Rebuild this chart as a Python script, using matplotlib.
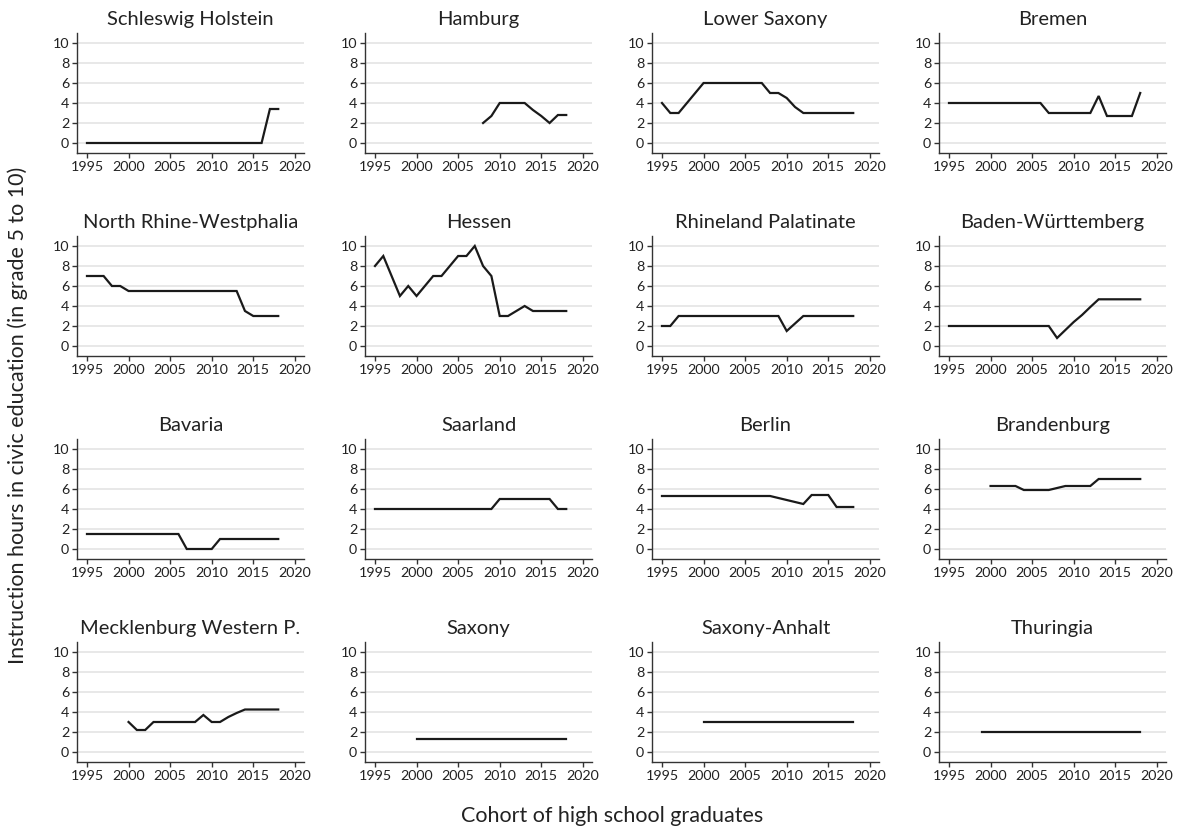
import matplotlib.pyplot as plt

plt.rcParams["font.family"] = ["Lato", "DejaVu Sans"]

# 各州公民教育课时数据（按毕业年份）
states = [
    "Schleswig Holstein", "Hamburg", "Lower Saxony", "Bremen",
    "North Rhine-Westphalia", "Hessen", "Rhineland Palatinate", "Baden-Württemberg",
    "Bavaria", "Saarland", "Berlin", "Brandenburg",
    "Mecklenburg Western P.", "Saxony", "Saxony-Anhalt", "Thuringia",
]

sh_years = list(range(1995, 2019))
sh_hours = [0] * 22 + [3.4, 3.4]

hh_years = list(range(2008, 2019))
hh_hours = [2, 2.7, 4, 4, 4, 4, 3.3, 2.7, 2, 2.8, 2.8]

ni_years = list(range(1995, 2019))
ni_hours = [4, 3, 3, 4, 5, 6, 6, 6, 6, 6, 6, 6, 6, 5, 5, 4.5, 3.6, 3, 3, 3, 3, 3, 3, 3]

hb_years = list(range(1995, 2019))
hb_hours = [4] * 12 + [3, 3, 3, 3, 3, 3, 4.7, 2.7, 2.7, 2.7, 2.7, 5]

nw_years = list(range(1995, 2019))
nw_hours = [7, 7, 7, 6, 6] + [5.5] * 14 + [3.5, 3, 3, 3, 3]

he_years = list(range(1995, 2019))
he_hours = [8, 9, 7, 5, 6, 5, 6, 7, 7, 8, 9, 9, 10, 8, 7, 3, 3, 3.5, 4, 3.5, 3.5, 3.5, 3.5, 3.5]

rp_years = list(range(1995, 2019))
rp_hours = [2, 2] + [3] * 13 + [1.5, 2.25] + [3] * 7

bw_years = list(range(1995, 2019))
bw_hours = [2] * 13 + [0.8, 1.6, 2.4, 3.1, 3.9] + [4.67] * 6

by_years = list(range(1995, 2019))
by_hours = [1.5] * 12 + [0, 0, 0, 0] + [1] * 8

sl_years = list(range(1995, 2019))
sl_hours = [4] * 15 + [5] * 7 + [4, 4]

be_years = list(range(1995, 2019))
be_hours = [5.3] * 14 + [5.1, 4.9, 4.7, 4.5, 5.4, 5.4, 5.4, 4.2, 4.2, 4.2]

bb_years = list(range(2000, 2019))
bb_hours = [6.3] * 4 + [5.9] * 4 + [6.1] + [6.3] * 4 + [7] * 6

mv_years = list(range(2000, 2019))
mv_hours = [3, 2.2, 2.2, 3, 3, 3, 3, 3, 3, 3.7, 3, 3, 3.5, 3.9, 4.25, 4.25, 4.25, 4.25, 4.25]

sn_years = list(range(2000, 2019))
sn_hours = [1.3] * 19

st_years = list(range(2000, 2019))
st_hours = [3] * 19

th_years = list(range(1999, 2019))
th_hours = [2] * 20

series = [
    (sh_years, sh_hours), (hh_years, hh_hours), (ni_years, ni_hours), (hb_years, hb_hours),
    (nw_years, nw_hours), (he_years, he_hours), (rp_years, rp_hours), (bw_years, bw_hours),
    (by_years, by_hours), (sl_years, sl_hours), (be_years, be_hours), (bb_years, bb_hours),
    (mv_years, mv_hours), (sn_years, sn_hours), (st_years, st_hours), (th_years, th_hours),
]

x_ticks = [1995, 2000, 2005, 2010, 2015, 2020]
y_ticks = [0, 2, 4, 6, 8, 10]

W, H = 1180, 830
fig = plt.figure(figsize=(W / 100, H / 100), dpi=100)

# 面板位置（像素）
col_left = [77, 365, 652, 939]
row_bottom = [153, 356, 559, 762]
pw, ph = 227, 120

for i, (name, (yrs, hrs)) in enumerate(zip(states, series)):
    r, c = divmod(i, 4)
    ax = fig.add_axes([col_left[c] / W, 1 - row_bottom[r] / H, pw / W, ph / H])
    ax.plot(yrs, hrs, color="#1a1a1a", linewidth=1.6, solid_joinstyle="miter")
    ax.set_xlim(1993.8, 2021.1)
    ax.set_ylim(-1, 11)
    ax.set_xticks(x_ticks)
    ax.set_yticks(y_ticks)
    ax.grid(True, axis="y", color="#e2e2e2", linewidth=1.1)
    ax.set_axisbelow(True)
    for s in ["top", "right"]:
        ax.spines[s].set_visible(False)
    for s in ["left", "bottom"]:
        ax.spines[s].set_color("#333333")
        ax.spines[s].set_linewidth(1.0)
    ax.tick_params(axis="both", labelsize=10.3, colors="#333333", length=3.6,
                   width=1.0, pad=2, labelcolor="#222222")
    ax.set_title(name, fontsize=14.5, pad=5.5, color="#222222")

fig.text(18 / W, 1 - 415 / H, "Instruction hours in civic education (in grade 5 to 10)",
         rotation=90, ha="center", va="center", fontsize=15.5, color="#222222")
fig.text(612 / W, 1 - 816 / H, "Cohort of high school graduates",
         ha="center", va="center", fontsize=15.5, color="#222222")

fig.savefig("out.png", dpi=100)
